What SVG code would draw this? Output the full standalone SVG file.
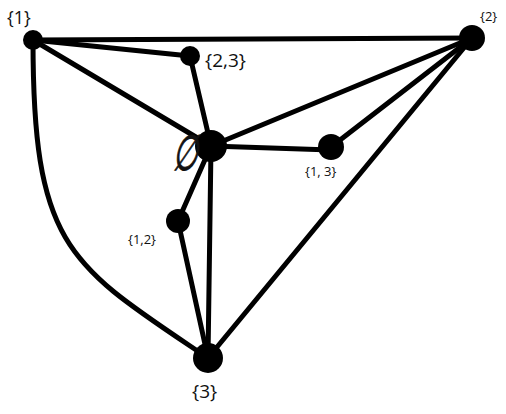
<svg xmlns="http://www.w3.org/2000/svg" width="506" height="414" viewBox="0 0 506 414">
<style>
.e{stroke:#000;stroke-width:5;fill:none;stroke-linecap:round}
.n{fill:#000}
.t{font-family:"Open Sans","Liberation Sans",sans-serif;fill:#111}
</style>
<rect width="506" height="414" fill="#fff"/>
<g id="edges">
<line class="e" x1="33" y1="40" x2="472" y2="38"/>
<line class="e" x1="33" y1="40" x2="190" y2="56"/>
<line class="e" x1="33" y1="40" x2="211" y2="146"/>
<path class="e" d="M33,40 C33,250 70,265 208,358"/>
<line class="e" x1="190" y1="56" x2="211" y2="146"/>
<line class="e" x1="472" y1="38" x2="211" y2="146"/>
<line class="e" x1="472" y1="38" x2="331" y2="147"/>
<line class="e" x1="211" y1="146" x2="331" y2="150"/>
<line class="e" x1="472" y1="38" x2="208" y2="358"/>
<line class="e" x1="211" y1="146" x2="178" y2="221"/>
<line class="e" x1="178" y1="221" x2="208" y2="358"/>
<line class="e" x1="211" y1="146" x2="208" y2="358"/>
</g>
<g id="n1"><circle class="n" cx="33" cy="40" r="10"/><text class="t" x="7" y="24" font-size="18">{1}</text></g>
<g id="n2"><circle class="n" cx="472" cy="38" r="13"/><text class="t" x="480" y="21" font-size="13">{2}</text></g>
<g id="n23"><circle class="n" cx="190" cy="56" r="10"/><text class="t" x="205" y="67" font-size="19">{2,3}</text></g>
<g id="nempty"><circle class="n" cx="211" cy="146" r="16"/><text class="t" transform="translate(185,170) skewX(-12) scale(0.75,1.3)" font-size="38" text-anchor="middle" stroke="#111" stroke-width="0.8">∅</text></g>
<g id="n13"><circle class="n" cx="331" cy="147" r="13"/><text class="t" x="305" y="176" font-size="13">{1, 3}</text></g>
<g id="n12"><circle class="n" cx="178" cy="221" r="12"/><text class="t" x="128" y="244" font-size="13">{1,2}</text></g>
<g id="n3"><circle class="n" cx="208" cy="358" r="15"/><text class="t" x="192" y="398" font-size="19">{3}</text></g>
</svg>
